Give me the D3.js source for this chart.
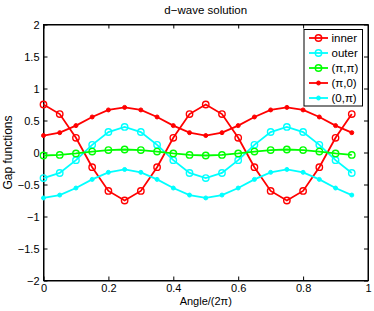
<!DOCTYPE html>
<html><head><meta charset="utf-8">
<script src="https://cdn.jsdelivr.net/npm/d3@7"></script>
<style>body{margin:0;background:#fff;} text{font-family:"Liberation Sans",Arial,sans-serif;}</style>
</head><body>
<svg id="c" width="374" height="311"></svg>
<script>
const angles = [0,0.05,0.1,0.15,0.2,0.25,0.3,0.35,0.4,0.45,0.5,0.55,0.6,0.65,0.7,0.75,0.8,0.85,0.9,0.95];
const inner = [0.75,0.6,0.23,-0.23,-0.6,-0.75,-0.6,-0.23,0.23,0.6,0.75,0.6,0.23,-0.23,-0.6,-0.75,-0.6,-0.23,0.23,0.6];
const outer = [-0.4,-0.32,-0.12,0.12,0.32,0.4,0.32,0.12,-0.12,-0.32,-0.4,-0.32,-0.12,0.12,0.32,0.4,0.32,0.12,-0.12,-0.32];
const piPi = [-0.047,-0.038,-0.015,0.015,0.038,0.047,0.038,0.015,-0.015,-0.038,-0.047,-0.038,-0.015,0.015,0.038,0.047,0.038,0.015,-0.015,-0.038];
const pi0 = [0.265,0.31,0.42,0.555,0.665,0.705,0.665,0.555,0.42,0.31,0.265,0.31,0.42,0.555,0.665,0.705,0.665,0.555,0.42,0.31];
const zeroPi = [-0.71,-0.665,-0.555,-0.42,-0.31,-0.265,-0.31,-0.42,-0.555,-0.665,-0.71,-0.665,-0.555,-0.42,-0.31,-0.265,-0.31,-0.42,-0.555,-0.665];
const seriesNames = ["inner","outer","(π,π)","(π,0)","(0,π)"];
const seriesColors = ["#ff0000","#00ffff","#00ff00","#ff0000","#00ffff"];
const seriesMarkers = ["circle","circle","circle","dot","dot"];
const seriesValues = [inner,outer,piPi,pi0,zeroPi];
const xTicks = [0,0.2,0.4,0.6,0.8,1];
const yTicks = [-2,-1.5,-1,-0.5,0,0.5,1,1.5,2];

const svg = d3.select("#c");
const L=43.5, R=368, T=24.5, B=280.5;
const x = d3.scaleLinear().domain([0,1]).range([L,R]);
const y = d3.scaleLinear().domain([-2,2]).range([B,T]);
const fmt = v => (v<0?"\u2212":"") + String(Math.abs(v));

svg.append("rect").attr("x",L).attr("y",T).attr("width",R-L).attr("height",B-T)
  .attr("fill","#fff").attr("stroke","#000").attr("stroke-width",1);

const axB = svg.append("g").attr("transform",`translate(0,${B})`)
  .call(d3.axisBottom(x).tickValues(xTicks).tickSizeInner(-4).tickSizeOuter(0).tickPadding(4).tickFormat(fmt));
const axT = svg.append("g").attr("transform",`translate(0,${T})`)
  .call(d3.axisTop(x).tickValues(xTicks).tickSizeInner(-4).tickSizeOuter(0).tickFormat(""));
const axL = svg.append("g").attr("transform",`translate(${L},0)`)
  .call(d3.axisLeft(y).tickValues(yTicks).tickSizeInner(-4).tickSizeOuter(0).tickPadding(4).tickFormat(fmt));
const axR = svg.append("g").attr("transform",`translate(${R},0)`)
  .call(d3.axisRight(y).tickValues(yTicks).tickSizeInner(-4).tickSizeOuter(0).tickFormat(""));
[axB,axT,axL,axR].forEach(a=>{
  a.select(".domain").attr("stroke","#000");
  a.selectAll("line").attr("stroke","#000");
  a.selectAll("text").attr("font-size",11).attr("fill","#000").attr("font-family","Liberation Sans, Arial, sans-serif");
});

const line = d3.line().x((d,i)=>x(angles[i])).y(d=>y(d));
seriesValues.forEach((vals,k)=>{
  const g = svg.append("g");
  g.append("path").datum(vals).attr("d",line).attr("fill","none")
    .attr("stroke",seriesColors[k]).attr("stroke-width",1.8);
  g.selectAll("circle").data(vals).enter().append("circle")
    .attr("cx",(d,i)=>x(angles[i])).attr("cy",d=>y(d))
    .attr("r",seriesMarkers[k]==="circle"?3.2:2)
    .attr("fill",seriesMarkers[k]==="circle"?"none":seriesColors[k])
    .attr("stroke",seriesColors[k]).attr("stroke-width",seriesMarkers[k]==="circle"?1.4:1);
});

const lg = svg.append("g");
lg.append("rect").attr("x",304).attr("y",29.5).attr("width",58.5).attr("height",76.5)
  .attr("fill","#fff").attr("stroke","#000").attr("stroke-width",1);
seriesNames.forEach((n,k)=>{
  const yy = 38 + k*15;
  lg.append("line").attr("x1",309).attr("x2",328).attr("y1",yy).attr("y2",yy)
    .attr("stroke",seriesColors[k]).attr("stroke-width",1.8);
  lg.append("circle").attr("cx",318.5).attr("cy",yy)
    .attr("r",seriesMarkers[k]==="circle"?3.2:2)
    .attr("fill",seriesMarkers[k]==="circle"?"none":seriesColors[k])
    .attr("stroke",seriesColors[k]).attr("stroke-width",seriesMarkers[k]==="circle"?1.4:1);
  lg.append("text").attr("x",331.5).attr("y",yy+4).attr("font-size",11.5).text(n);
});

svg.append("text").attr("x",(L+R)/2).attr("y",14).attr("text-anchor","middle").attr("font-size",11.5).text("d\u2212wave solution");
svg.append("text").attr("x",(L+R)/2).attr("y",305).attr("text-anchor","middle").attr("font-size",11).text("Angle/(2π)");
svg.append("text").attr("transform",`translate(11.5,${(T+B)/2}) rotate(-90)`).attr("text-anchor","middle").attr("font-size",12).text("Gap functions");
</script>
</body></html>
